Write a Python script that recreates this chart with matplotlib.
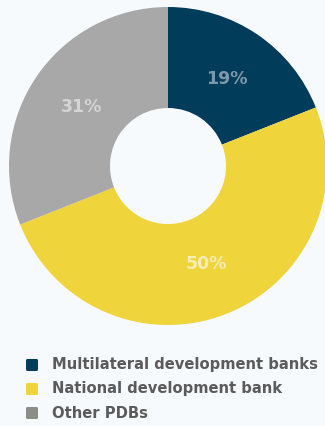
import matplotlib
matplotlib.use("Agg")
import matplotlib.pyplot as plt
import numpy as np
from matplotlib.patches import FancyBboxPatch

categories = ["Multilateral development banks", "National development bank", "Other PDBs"]
shares = [19, 50, 31]
slice_colors = ["#013d5a", "#efd43c", "#a8a8a8"]
legend_colors = ["#013d5a", "#efd43c", "#8c8c88"]
label_colors = ["#7d98ab", "#f6edb4", "#d4d4d4"]

W, H = 325, 426
bg = "#f7fafd"
fig = plt.figure(figsize=(W / 100, H / 100), dpi=100, facecolor=bg)

# donut: centre (168, 166) px, outer radius 159 px, hole radius 58 px
cx, cy, R, r_in = 168, 166, 159, 58
ax = fig.add_axes([(cx - R) / W, (H - cy - R) / H, 2 * R / W, 2 * R / H])
ax.set_facecolor(bg)

wedges, _ = ax.pie(shares, colors=slice_colors, startangle=90, counterclock=False,
                   radius=1, wedgeprops=dict(width=1 - r_in / R, linewidth=0),
                   frame=False)
ax.set_xlim(-1, 1)
ax.set_ylim(-1, 1)
ax.set_aspect("equal")
ax.axis("off")
for w in wedges:
    w.set_clip_on(False)

mid_r = 0.66
for w, s, c in zip(wedges, shares, label_colors):
    ang = np.deg2rad((w.theta1 + w.theta2) / 2)
    ax.text(mid_r * np.cos(ang), mid_r * np.sin(ang), f"{s}%", ha="center", va="center",
            fontsize=12.5, fontweight="bold", color=c, family=["DejaVu Sans"])

# legend
rows_y = [365, 389, 413]
for name, col, y in zip(categories, legend_colors, rows_y):
    box = FancyBboxPatch(((26) / W, (H - y - 6) / H), 12 / W, 12 / H,
                         boxstyle="round,pad=0,rounding_size=0.004",
                         transform=fig.transFigure, facecolor=col, edgecolor="none")
    fig.patches.append(box)
    fig.text(52 / W, (H - y) / H, name, ha="left", va="center", fontsize=10.6,
             fontweight="bold", color="#5b5b5b", family=["DejaVu Sans"])

fig.savefig("out.png", dpi=100, facecolor=bg)
